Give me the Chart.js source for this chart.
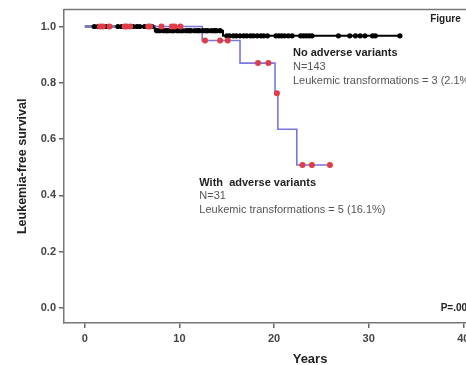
<!DOCTYPE html>
<html>
<head>
<meta charset="utf-8">
<script src="https://cdn.jsdelivr.net/npm/chart.js@4.4.1/dist/chart.umd.min.js"></script>
<style>
html, body { margin: 0; padding: 0; background: #fff; overflow: hidden; width: 466px; height: 365px; }
#wrap { width: 496px; height: 365px; position: relative; }
</style>
</head>
<body>
<div id="wrap"><canvas id="km"></canvas></div>
<script>
const xTicks = [0, 10, 20, 30, 40];
const yTicks = [0.0, 0.2, 0.4, 0.6, 0.8, 1.0];

// Kaplan-Meier steps: time of each event and survival after it
const noAdvStepYears = [0, 7.4, 14.6, 33.3];
const noAdvStepSurv = [1.0, 0.985, 0.967, 0.967];
const advStepYears = [0, 12.4, 16.4, 20.1, 20.4, 22.4, 25.9];
const advStepSurv = [1.0, 0.95, 0.87, 0.763, 0.635, 0.508, 0.508];

// censored cases (the dots)
const noAdvCensorYears = [1.0, 1.4, 2.3, 2.6, 3.5, 3.9, 4.1, 5.1, 5.5, 5.8, 6.3, 6.6, 7.1,
    7.6, 7.9, 8.3, 8.6, 8.8, 9.2, 9.4, 9.8, 10.1, 10.3, 10.7, 11.0, 11.2, 11.6, 11.9, 12.1, 12.5,
    12.8, 13.0, 13.4, 13.7, 13.9, 14.3,
    15.0, 15.3, 15.7, 16.0, 16.4, 16.8, 17.1, 17.5, 17.8, 18.2, 18.6, 18.9, 19.3, 20.2, 20.5,
    20.8, 21.1, 21.5, 21.9, 22.8, 23.1, 23.4, 23.7, 24.0, 26.8, 28.0, 28.6, 29.1, 29.6, 30.4, 30.7, 33.3];
const advCensorYears = [1.6, 1.9, 2.6, 4.2, 4.4, 4.8, 6.7, 6.9, 8.1, 9.2, 9.5, 10.1,
    12.7, 14.3, 15.1, 18.3, 19.4, 20.3, 23.0, 24.0, 25.9];

const notes = [
    { text: 'No adverse variants', bold: true, x: 22.0, y: 0.905 },
    { text: 'N=143', x: 22.0, y: 0.855 },
    { text: 'Leukemic transformations = 3 (2.1%)', x: 22.0, y: 0.806 },
    { text: 'With  adverse variants', bold: true, x: 12.1, y: 0.445 },
    { text: 'N=31', x: 12.1, y: 0.399 },
    { text: 'Leukemic transformations = 5 (16.1%)', x: 12.1, y: 0.350 },
    { text: 'Figure', bold: true, small: true, x: 36.5, y: 1.027 },
    { text: 'P=.00', bold: true, small: true, x: 37.6, y: 0.0 },
];

const fontFamily = '"Liberation Sans", Arial, sans-serif';

function survivalAt(years, surv, t) {
    let s = surv[0];
    for (let i = 0; i < years.length; i++) {
        if (years[i] <= t) s = surv[i];
    }
    return s;
}

const toPoints = (xs, ys) => xs.map((x, i) => ({ x, y: ys[i] }));
const censorPoints = (xs, years, surv) => xs.map((x) => ({ x, y: survivalAt(years, surv, x) }));

const framePlugin = {
    id: 'frame',
    beforeDatasetsDraw(chart) {
        const { ctx, chartArea } = chart;
        ctx.save();
        ctx.strokeStyle = '#777';
        ctx.lineWidth = 1.5;
        ctx.beginPath();
        ctx.moveTo(chartArea.left, chartArea.top);
        ctx.lineTo(chartArea.right, chartArea.top);
        ctx.lineTo(chartArea.right, chartArea.bottom);
        ctx.stroke();
        ctx.restore();
    },
};

const notesPlugin = {
    id: 'notes',
    afterDatasetsDraw(chart) {
        const { ctx, scales, chartArea } = chart;
        ctx.save();
        ctx.textBaseline = 'middle';
        ctx.textAlign = 'left';
        notes.forEach((n) => {
            const size = n.small ? 10 : 11;
            ctx.font = `${n.bold ? 'bold ' : ''}${size}px ${fontFamily}`;
            ctx.fillStyle = n.bold ? '#222' : '#555';
            ctx.fillText(n.text, scales.x.getPixelForValue(n.x), scales.y.getPixelForValue(n.y));
        });
        // x axis title sits right of centre in the original
        ctx.font = `bold 13px ${fontFamily}`;
        ctx.fillStyle = '#222';
        ctx.textAlign = 'center';
        ctx.fillText('Years', scales.x.getPixelForValue(23.8), chartArea.bottom + 36);
        ctx.restore();
    },
};

new Chart(document.getElementById('km'), {
    type: 'line',
    data: {
        datasets: [
            {
                label: 'With adverse variants censored',
                data: censorPoints(advCensorYears, advStepYears, advStepSurv),
                showLine: false,
                pointRadius: 3,
                pointBackgroundColor: '#e23d46',
                pointBorderColor: '#e23d46',
                pointBorderWidth: 0,
                order: 0,
            },
            {
                label: 'No adverse variants censored',
                data: censorPoints(noAdvCensorYears, noAdvStepYears, noAdvStepSurv),
                showLine: false,
                pointRadius: 2.6,
                pointBackgroundColor: '#000',
                pointBorderColor: '#000',
                pointBorderWidth: 0,
                order: 1,
            },
            {
                label: 'With adverse variants',
                data: toPoints(advStepYears, advStepSurv),
                stepped: 'before',
                borderColor: '#7676e4',
                borderWidth: 1.6,
                pointRadius: 0,
                fill: false,
                order: 2,
            },
            {
                label: 'No adverse variants',
                data: toPoints(noAdvStepYears, noAdvStepSurv),
                stepped: 'before',
                borderColor: '#000',
                borderWidth: 2,
                pointRadius: 0,
                fill: false,
                order: 3,
            },
        ],
    },
    options: {
        responsive: true,
        maintainAspectRatio: false,
        animation: false,
        layout: { padding: { top: 8, right: 9, bottom: 0, left: 0 } },
        plugins: { legend: { display: false }, tooltip: { enabled: false } },
        scales: {
            x: {
                type: 'linear',
                min: -2.2,
                max: 42.5,
                afterBuildTicks: (scale) => { scale.ticks = xTicks.map((v) => ({ value: v })); },
                afterFit: (scale) => { scale.height = 42; },
                ticks: {
                    color: '#444',
                    font: { family: fontFamily, size: 11, weight: 'bold' },
                    padding: 4,
                },
                grid: { drawOnChartArea: false, tickLength: 5, color: '#666', lineWidth: 1.5 },
                border: { color: '#777', width: 1.5 },
            },
            y: {
                type: 'linear',
                min: -0.053,
                max: 1.06,
                afterBuildTicks: (scale) => { scale.ticks = yTicks.map((v) => ({ value: v })); },
                afterFit: (scale) => { scale.width = 64; },
                ticks: {
                    color: '#444',
                    font: { family: fontFamily, size: 11, weight: 'bold' },
                    padding: 3,
                    callback: (v) => Number(v).toFixed(1),
                },
                grid: { drawOnChartArea: false, tickLength: 5, color: '#666', lineWidth: 1.5 },
                border: { color: '#777', width: 1.5 },
                title: {
                    display: true,
                    text: 'Leukemia-free survival',
                    color: '#222',
                    font: { family: fontFamily, size: 12.5, weight: 'bold' },
                    padding: { top: 15, bottom: 0 },
                },
            },
        },
    },
    plugins: [framePlugin, notesPlugin],
});
</script>
</body>
</html>
